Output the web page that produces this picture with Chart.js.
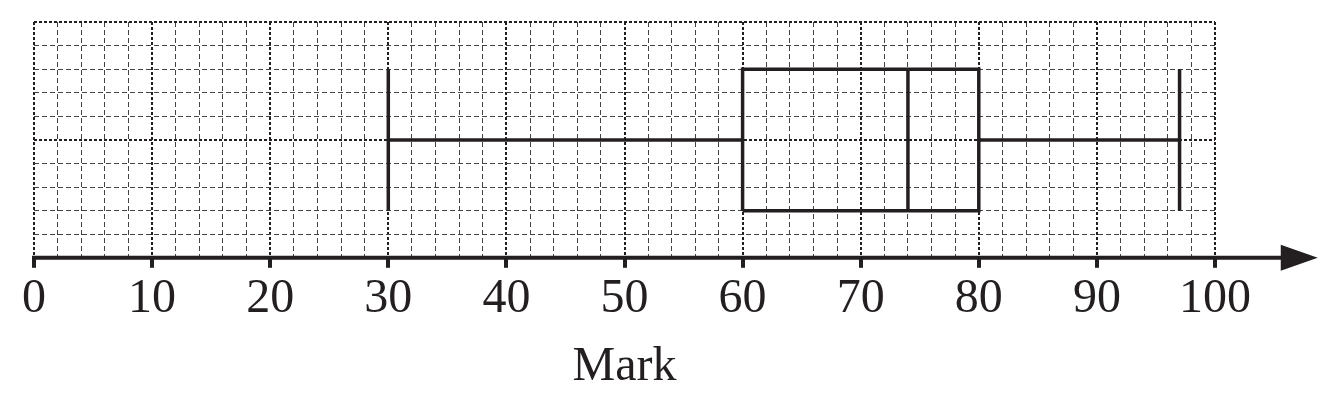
<!DOCTYPE html>
<html>
<head>
<meta charset="utf-8">
<title>Mark box plot</title>
<script src="https://cdn.jsdelivr.net/npm/chart.js@4.4.1/dist/chart.umd.min.js"></script>
<style>
  html, body { margin: 0; padding: 0; background: #fff; }
  #wrap { width: 1341px; height: 401px; }
</style>
</head>
<body>
<div id="wrap"><canvas id="myChart" width="1341" height="401"></canvas></div>
<script>
// five number summary
var statNames = ['Min', 'Q1', 'Median', 'Q3', 'Max'];
var statValues = [30, 60, 74, 80, 97];
var xTicks = [0, 10, 20, 30, 40, 50, 60, 70, 80, 90, 100];
var axisTitle = 'Mark';

var ink = '#231f20';
var boxLow = 2, boxHigh = 8, whiskerY = 5;   // vertical placement on the hidden 0..10 grid
var arrowEnd = 108.7;                          // axis arrow runs a bit past 100

var minV = statValues[0], q1 = statValues[1], med = statValues[2], q3 = statValues[3], maxV = statValues[4];

function seg(points) {
    return {
        type: 'line',
        data: points,
        borderColor: ink,
        borderWidth: 3.5,
        borderJoinStyle: 'miter',
        borderCapStyle: 'butt',
        pointRadius: 0,
        tension: 0,
        fill: false
    };
}

var datasets = [
    seg([{x: q1, y: boxLow}, {x: q3, y: boxLow}, {x: q3, y: boxHigh}, {x: q1, y: boxHigh}, {x: q1, y: boxLow}]),
    seg([{x: med, y: boxLow}, {x: med, y: boxHigh}]),
    seg([{x: minV, y: whiskerY}, {x: q1, y: whiskerY}]),
    seg([{x: q3, y: whiskerY}, {x: maxV, y: whiskerY}]),
    seg([{x: minV, y: boxLow}, {x: minV, y: boxHigh}]),
    seg([{x: maxV, y: boxLow}, {x: maxV, y: boxHigh}])
];

function isMajorX(v) { return v % 10 === 0; }
function isMajorY(v) { return v === 10 || v === 5; }

// thick axis line with arrow head
const axisArrow = {
    id: 'axisArrow',
    afterDatasetsDraw(chart) {
        const x = chart.scales.x;
        const ctx = chart.ctx;
        const y = chart.chartArea.bottom;
        const x0 = x.getPixelForValue(0) - 2;
        const tip = x.getPixelForValue(arrowEnd);
        ctx.save();
        ctx.strokeStyle = ink;
        ctx.fillStyle = ink;
        ctx.lineWidth = 4;
        ctx.beginPath();
        ctx.moveTo(x0, y);
        ctx.lineTo(tip - 30, y);
        ctx.stroke();
        ctx.beginPath();
        ctx.moveTo(tip, y);
        ctx.lineTo(tip - 37, y - 13);
        ctx.lineTo(tip - 37, y + 13);
        ctx.closePath();
        ctx.fill();
        ctx.restore();
    }
};

const ctx = document.getElementById('myChart');
const myChart = new Chart(ctx, {
    type: 'line',
    data: { datasets: datasets },
    options: {
        responsive: false,
        animation: false,
        events: [],
        layout: { padding: { left: 34, right: 126, top: 22, bottom: 4 } },
        plugins: {
            legend: { display: false },
            tooltip: { enabled: false }
        },
        scales: {
            x: {
                type: 'linear',
                min: xTicks[0],
                max: xTicks[xTicks.length - 1],
                ticks: {
                    stepSize: 2,
                    autoSkip: false,
                    maxRotation: 0,
                    padding: 3,
                    color: ink,
                    font: { family: 'Liberation Serif', size: 48 },
                    callback: function (v) { return xTicks.indexOf(v) >= 0 ? String(v) : ''; }
                },
                grid: {
                    color: function (c) { return isMajorX(c.tick.value) ? ink : '#444'; },
                    lineWidth: function (c) { return isMajorX(c.tick.value) ? 2 : 1; },
                    drawTicks: true,
                    tickLength: 10,
                    tickWidth: 4,
                    tickColor: function (c) { return isMajorX(c.tick.value) ? ink : 'rgba(0,0,0,0)'; }
                },
                border: {
                    display: false,
                    dash: function (c) { return isMajorX(c.tick.value) ? [3, 2] : [5, 3]; }
                },
                title: {
                    display: true,
                    text: axisTitle,
                    color: ink,
                    font: { family: 'Liberation Serif', size: 48 },
                    padding: { top: 7, bottom: 1 }
                }
            },
            y: {
                type: 'linear',
                min: 0,
                max: 10,
                ticks: { display: false, stepSize: 1 },
                grid: {
                    color: function (c) {
                        if (c.tick.value === 0) return 'rgba(0,0,0,0)';
                        return isMajorY(c.tick.value) ? ink : '#444';
                    },
                    lineWidth: function (c) { return isMajorY(c.tick.value) ? 2 : 1; },
                    drawTicks: false
                },
                border: {
                    display: false,
                    dash: function (c) { return isMajorY(c.tick.value) ? [3, 2] : [5, 3]; }
                }
            }
        }
    },
    plugins: [axisArrow]
});
</script>
</body>
</html>
